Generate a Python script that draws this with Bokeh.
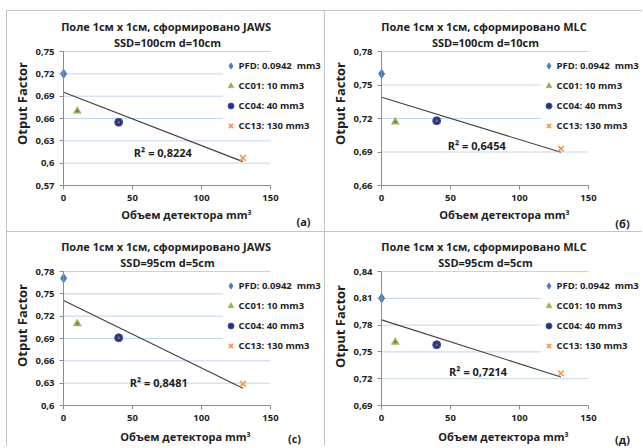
import math
import numpy as np
from bokeh.plotting import figure
from bokeh.layouts import column, row
from bokeh.models import Label, Legend, LegendItem, FixedTicker, Spacer, Range1d
from bokeh.embed import file_html
from bokeh.resources import INLINE

# ---------------- data ----------------
volumes = [0.0942, 10, 40, 130]
series_names = ["PFD: 0.0942  mm3", "CC01: 10 mm3", "CC04: 40 mm3", "CC13: 130 mm3"]

of_a = [0.720, 0.670, 0.655, 0.607]
of_b = [0.760, 0.717, 0.718, 0.693]
of_c = [0.771, 0.710, 0.691, 0.629]
of_d = [0.810, 0.761, 0.758, 0.726]

title_line1 = ["Поле 1см x 1см, сформировано  JAWS", "Поле 1см x 1см, сформировано  MLC",
               "Поле 1см x 1см, сформировано  JAWS", "Поле 1см x 1см, сформировано  MLC"]
title_line2 = ["SSD=100cm d=10cm", "SSD=100cm d=10cm", "SSD=95cm d=5cm", "SSD=95cm d=5cm"]
r2_texts = ["R² = 0,8224", "R² = 0,6454", "R² = 0,8481", "R² = 0,7214"]
panel_letters = ["(a)", "(б)", "(c)", "(д)"]
x_label = "Объем детектора mm³"
y_label = "Otput Factor"

x_ticks = [0, 50, 100, 150]
x_tick_labels = ["0", "50", "100", "150"]
y_ticks_a = [0.57, 0.60, 0.63, 0.66, 0.69, 0.72, 0.75]
y_labels_a = ["0,57", "0,6", "0,63", "0,66", "0,69", "0,72", "0,75"]
y_ticks_b = [0.66, 0.69, 0.72, 0.75, 0.78]
y_labels_b = ["0,66", "0,69", "0,72", "0,75", "0,78"]
y_ticks_c = [0.60, 0.63, 0.66, 0.69, 0.72, 0.75, 0.78]
y_labels_c = ["0,6", "0,63", "0,66", "0,69", "0,72", "0,75", "0,78"]
y_ticks_d = [0.69, 0.72, 0.75, 0.78, 0.81, 0.84]
y_labels_d = ["0,69", "0,72", "0,75", "0,78", "0,81", "0,84"]

# ---------------- styles / layout ----------------
FONT = "Open Sans"
TXT = "#1e1e1e"
BORDER = "#c4c4c4"
GRID = "#c3d5ec"
AXIS = "#8c8c8c"

marker_styles = [
    dict(marker="diamond", size=9, fill_color="#4a7ebb", line_color="#4a7ebb"),
    dict(marker="triangle", size=8, fill_color="#8fb651", line_color="#8fb651", line_width=0.5),
    dict(marker="circle", size=8, fill_color="#24367f", line_color="#3e52a0", line_width=1),
    dict(marker="x", size=8, line_color="#f79646", line_width=1.6),
]
# small red centre dots visible on the CC01 and CC04 markers in the plot
dot_series = [1, 2]

# local pixel positions (from panel top-left)
panels = [
    dict(y=of_a, ticks=y_ticks_a, labels=y_labels_a, h=221, top=40,
         t1=15, t2=31, xl=(179, 203), yl=(14, 92), letter=(296, 210), r2=(72, 0.6143)),
    dict(y=of_b, ticks=y_ticks_b, labels=y_labels_b, h=221, top=40,
         t1=15, t2=31, xl=(179, 203), yl=(14, 92), letter=(297, 212), r2=(69, 0.6958)),
    dict(y=of_c, ticks=y_ticks_c, labels=y_labels_c, h=215, top=39,
         t1=14, t2=30, xl=(178, 204), yl=(14, 93), letter=(287, 206), r2=(69, 0.6310)),
    dict(y=of_d, ticks=y_ticks_d, labels=y_labels_d, h=215, top=39,
         t1=14, t2=30, xl=(178, 204), yl=(14, 94), letter=(297, 207), r2=(70, 0.7278)),
]

W = 318
FL, FW = 56, 207     # plot area left offset and width in px
FH = 134             # plot area height in px


def make_panel(i, cfg):
    h, top = cfg["h"], cfg["top"]
    ymin, ymax = cfg["ticks"][0], cfg["ticks"][-1]
    ux = 150 / FW
    uy = (ymax - ymin) / FH
    xr = Range1d(-FL * ux, 150 + (W - FL - FW) * ux)
    yr = Range1d(ymin - (h - top - FH) * uy, ymax + top * uy)

    p = figure(width=W, height=h, x_range=xr, y_range=yr,
               output_backend="svg", toolbar_location=None, title=None,
               min_border=0, min_border_left=0, min_border_right=0,
               min_border_top=0, min_border_bottom=0)
    p.outline_line_color = None
    p.background_fill_color = "white"
    p.border_fill_color = "white"
    p.styles = {"border-left": f"1px solid {BORDER}", "border-top": f"1px solid {BORDER}"}
    p.grid.visible = False

    # horizontal gridlines over the plot area
    n = len(cfg["ticks"])
    p.segment(x0=[x_ticks[0]] * n, y0=cfg["ticks"], x1=[x_ticks[-1]] * n, y1=cfg["ticks"],
              line_color=GRID, line_width=1)

    p.xaxis.ticker = FixedTicker(ticks=x_ticks)
    p.xaxis.major_label_overrides = {t: l for t, l in zip(x_ticks, x_tick_labels)}
    p.xaxis.fixed_location = ymin
    p.xaxis.bounds = (x_ticks[0], x_ticks[-1])
    p.yaxis.ticker = FixedTicker(ticks=cfg["ticks"])
    p.yaxis.major_label_overrides = {t: l for t, l in zip(cfg["ticks"], cfg["labels"])}
    p.yaxis.fixed_location = x_ticks[0]
    p.yaxis.bounds = (ymin, ymax)
    for ax in (p.xaxis, p.yaxis):
        ax.axis_line_color = AXIS
        ax.major_tick_line_color = AXIS
        ax.major_tick_out = 4
        ax.major_tick_in = 0
        ax.minor_tick_line_color = None
        ax.major_label_text_font = FONT
        ax.major_label_text_font_style = "bold"
        ax.major_label_text_font_size = "9.5px"
        ax.major_label_text_color = TXT
        ax.major_label_standoff = 5

    ys = cfg["y"]
    # linear least-squares trendline, as drawn by the spreadsheet
    k, b = np.polyfit(volumes, ys, 1)
    x0, x1 = min(volumes), max(volumes)
    p.line([x0, x1], [k * x0 + b, k * x1 + b], line_color="#3f3f3f", line_width=1.1)

    items = []
    for j in range(4):
        r = p.scatter([volumes[j]], [ys[j]], **marker_styles[j])
        items.append(LegendItem(label=series_names[j], renderers=[r]))
    p.scatter([volumes[j] for j in dot_series], [ys[j] for j in dot_series],
              marker="circle", size=2.5, fill_color="#c0504d", line_color=None)

    leg = Legend(items=items, orientation="vertical")
    leg.padding = 2
    leg.margin = 0
    leg.spacing = 5
    leg.glyph_width = 15
    leg.glyph_height = 15
    leg.label_height = 15
    leg.label_standoff = 1
    leg_h = 4 * 15 + 3 * 5 + 2 * 2
    leg_top = top + 2.5
    leg.location = (225 - 7.5 - 2, h - leg_top - leg_h)
    leg.background_fill_color = "white"
    leg.background_fill_alpha = 1.0
    leg.border_line_color = None
    leg.label_text_font = FONT
    leg.label_text_font_style = "bold"
    leg.label_text_font_size = "9.5px"
    leg.label_text_color = TXT
    p.add_layout(leg, "center")

    def lab(text, x, y, size, units="screen", angle=0.0):
        p.add_layout(Label(text=text, x=x, y=y, x_units=units, y_units=units, angle=angle,
                           text_font=FONT, text_font_style="bold",
                           text_font_size=size, text_color=TXT,
                           text_align="center", text_baseline="middle"))

    lab(title_line1[i], 160, h - cfg["t1"], "11px")
    lab(title_line2[i], 160, h - cfg["t2"], "11px")
    lab(x_label, cfg["xl"][0], h - cfg["xl"][1], "11px")
    lab(y_label, cfg["yl"][0], h - cfg["yl"][1], "13px", angle=math.pi / 2)
    lab(panel_letters[i], cfg["letter"][0], h - cfg["letter"][1], "11px")
    lab(r2_texts[i], cfg["r2"][0], cfg["r2"][1], "11px", units="data")
    return p


figs = [make_panel(i, c) for i, c in enumerate(panels)]

layout = column(
    Spacer(height=10),
    row(Spacer(width=6), figs[0], figs[1], spacing=0),
    row(Spacer(width=6), figs[2], figs[3], spacing=0),
    spacing=0,
)

open("out.html", "w").write(file_html(layout, INLINE))
